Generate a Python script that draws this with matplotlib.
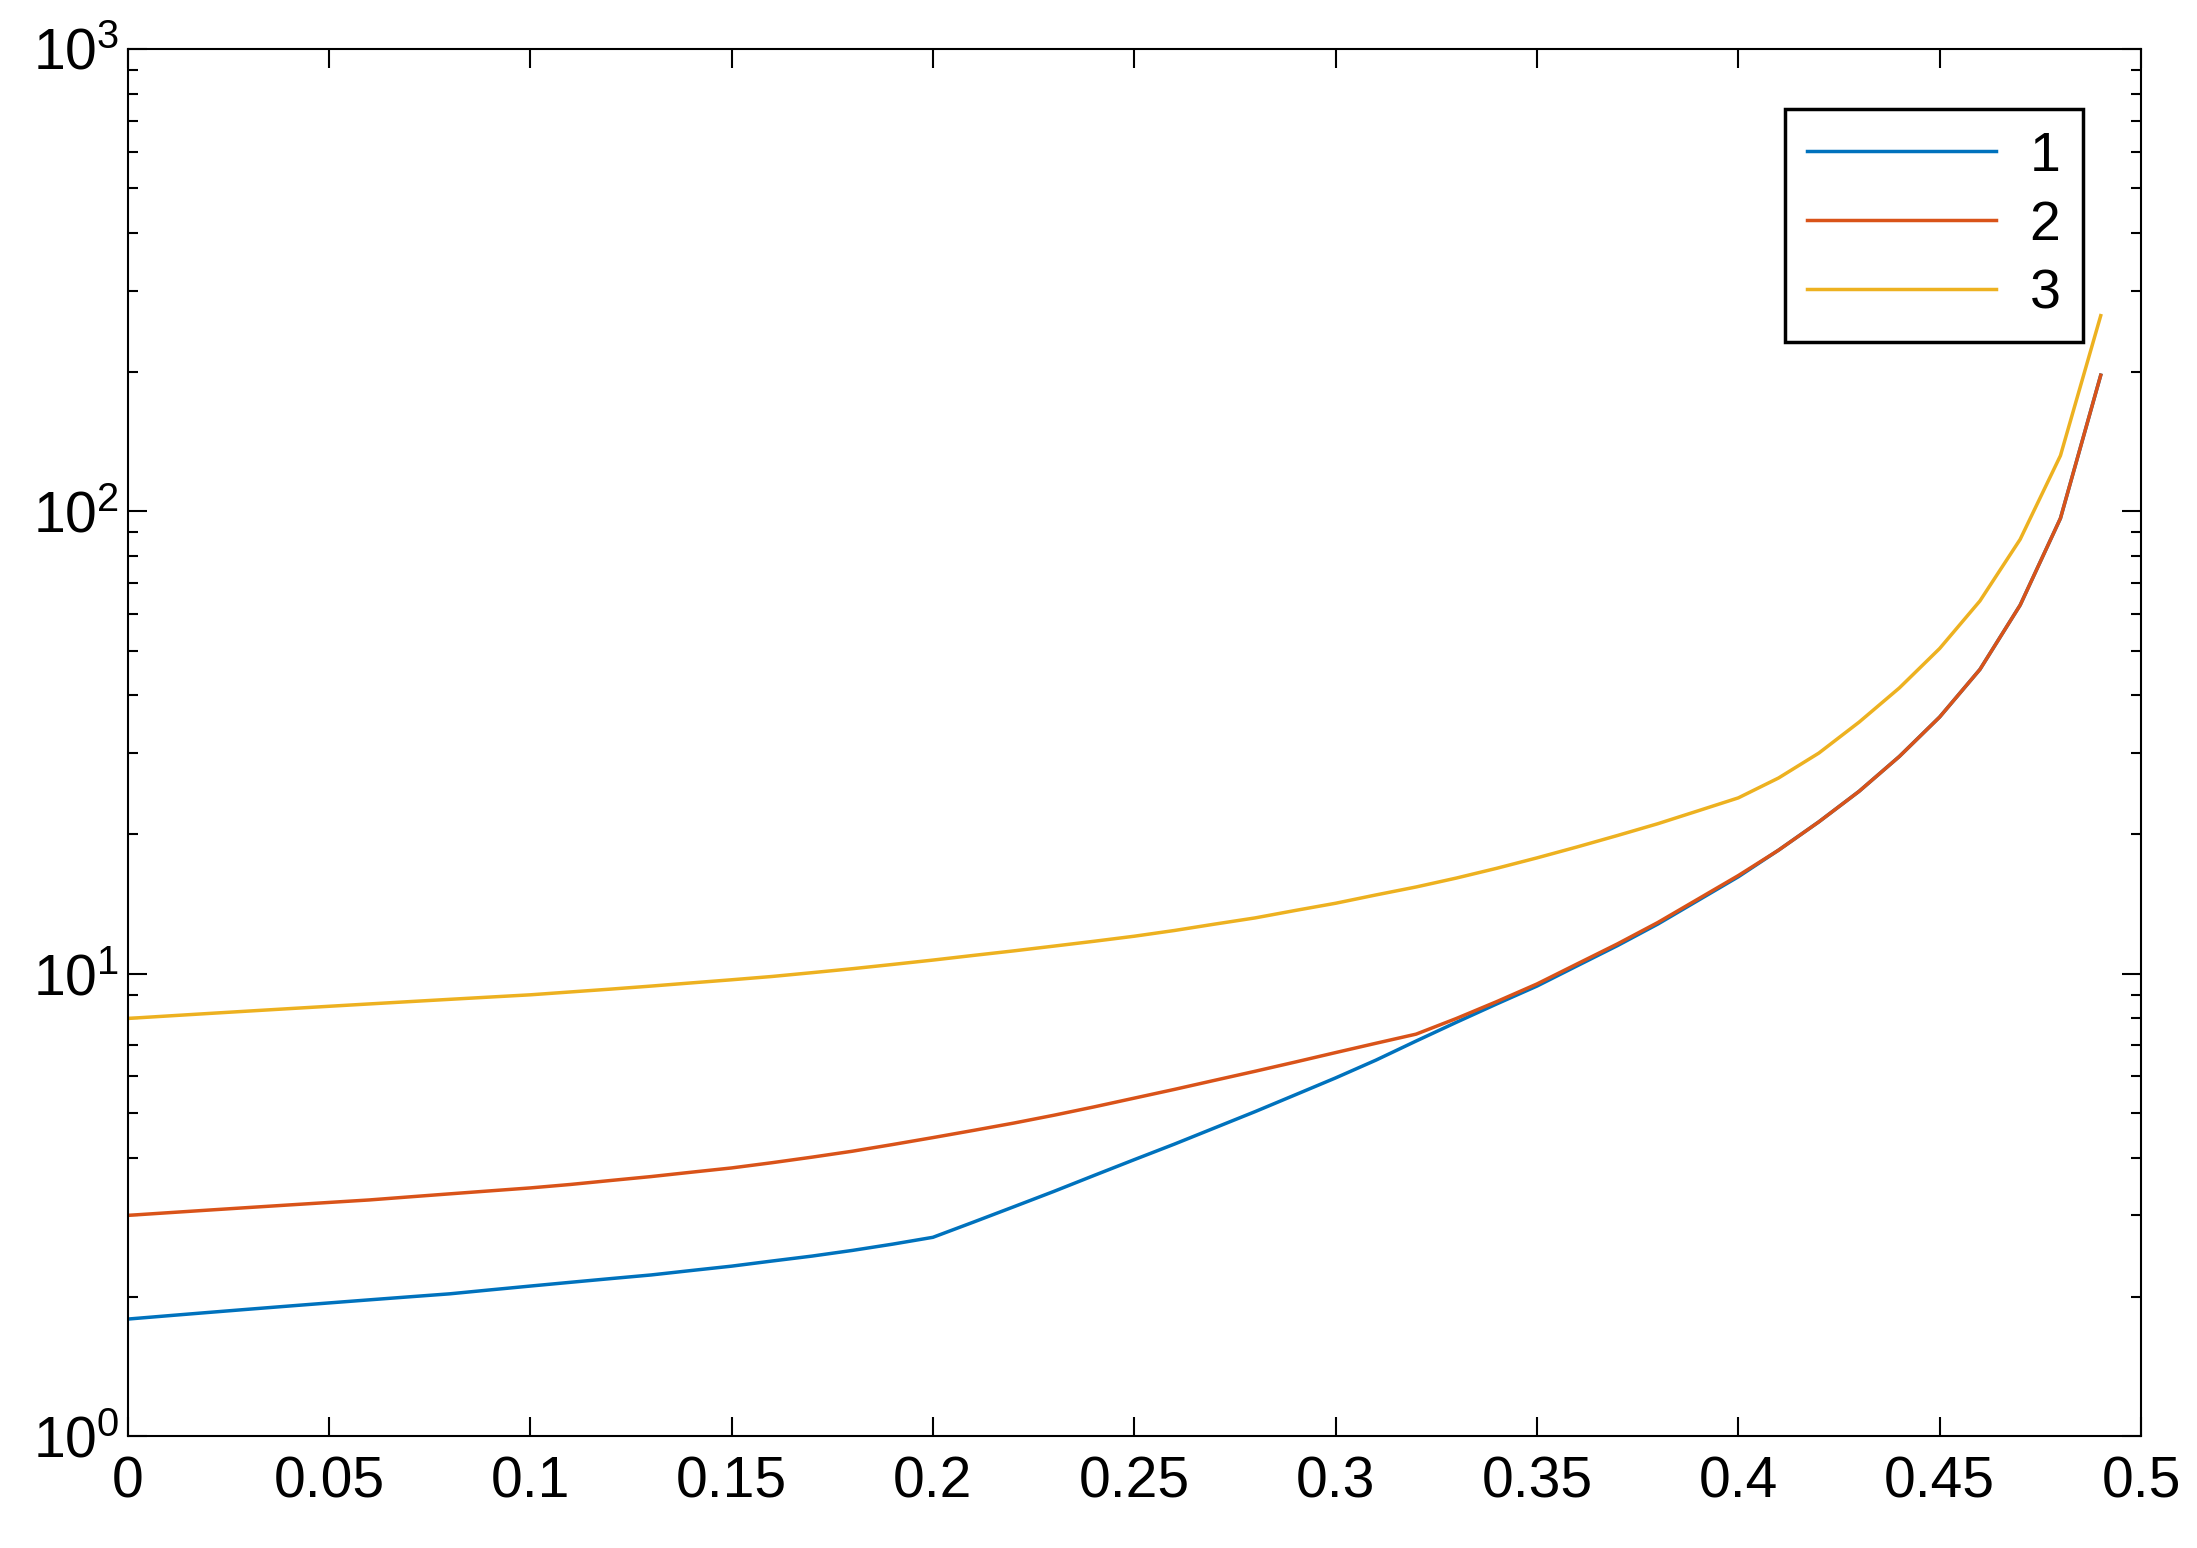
import numpy as np
import matplotlib
matplotlib.use('Agg')
import matplotlib.pyplot as plt
from matplotlib.ticker import LogLocator, NullFormatter, FixedLocator

plt.rcParams['font.family'] = ['Liberation Sans', 'DejaVu Sans']
plt.rcParams['mathtext.fontset'] = 'custom'
plt.rcParams['mathtext.rm'] = 'Liberation Sans'

x = [i / 100 for i in range(50)]
s1 = [1.79, 1.82, 1.85, 1.88, 1.91, 1.94, 1.97, 2.00, 2.03, 2.07,
      2.11, 2.15, 2.19, 2.23, 2.28, 2.33, 2.39, 2.45, 2.52, 2.60,
      2.69, 2.90, 3.13, 3.38, 3.66, 3.96, 4.28, 4.64, 5.03, 5.47,
      5.95, 6.5, 7.15, 7.85, 8.6, 9.4, 10.4, 11.5, 12.8, 14.4,
      16.2, 18.5, 21.3, 24.8, 29.5, 35.9, 45.5, 62.7, 96.6, 197]
s2 = [3.0, 3.04, 3.08, 3.12, 3.16, 3.20, 3.24, 3.29, 3.34, 3.39,
      3.44, 3.50, 3.57, 3.64, 3.72, 3.80, 3.90, 4.01, 4.13, 4.27,
      4.42, 4.58, 4.75, 4.94, 5.15, 5.38, 5.62, 5.88, 6.15, 6.44,
      6.75, 7.07, 7.4, 8.0, 8.7, 9.5, 10.5, 11.6, 12.9, 14.5,
      16.3, 18.5, 21.3, 24.8, 29.5, 35.9, 45.5, 62.7, 96.6, 197]
s3 = [8.0, 8.1, 8.2, 8.3, 8.4, 8.5, 8.6, 8.7, 8.8, 8.9,
      9.0, 9.13, 9.26, 9.4, 9.55, 9.7, 9.86, 10.05, 10.25, 10.47,
      10.7, 10.95, 11.2, 11.47, 11.75, 12.05, 12.4, 12.8, 13.2, 13.7,
      14.2, 14.8, 15.4, 16.1, 16.9, 17.8, 18.8, 19.9, 21.1, 22.5,
      24.0, 26.5, 30, 35, 41.5, 50.5, 64, 87, 132, 265]
labels = ['1', '2', '3']
colors = ['#0072BD', '#D95319', '#EDB120']

fig = plt.figure(figsize=(21.97, 15.48), dpi=100)
ax = fig.add_axes([127.5 / 2197, 1 - 1436 / 1548, 2013.5 / 2197, 1387 / 1548])

for s, lab, c in zip([s1, s2, s3], labels, colors):
    ax.plot(x, s, color=c, linewidth=2.5, label=lab)

ax.set_yscale('log')
ax.set_xlim(0, 0.5)
ax.set_ylim(1, 1000)
ax.xaxis.set_major_locator(FixedLocator(np.arange(0, 0.51, 0.05)))
ax.set_xticklabels(['0', '0.05', '0.1', '0.15', '0.2', '0.25', '0.3', '0.35', '0.4', '0.45', '0.5'])
ax.yaxis.set_major_locator(LogLocator(base=10, numticks=10))
ax.yaxis.set_minor_locator(LogLocator(base=10, subs=np.arange(2, 10), numticks=10))
ax.yaxis.set_minor_formatter(NullFormatter())
ax.tick_params(which='both', direction='in', top=True, right=True, labelsize=41, width=1.5)
ax.tick_params(which='major', length=14)
ax.tick_params(which='minor', length=7)
ax.tick_params(axis='x', pad=14)
ax.tick_params(axis='y', pad=6)
for sp in ax.spines.values():
    sp.set_linewidth(1.5)

leg = ax.legend(loc='upper right', bbox_to_anchor=(0.971, 0.957), borderaxespad=0,
                fancybox=False, edgecolor='black', framealpha=1, fontsize=40,
                handlelength=3.4, labelspacing=0.3, handletextpad=0.6)
leg.get_frame().set_linewidth(2.5)

plt.savefig('out.png', dpi=100)
